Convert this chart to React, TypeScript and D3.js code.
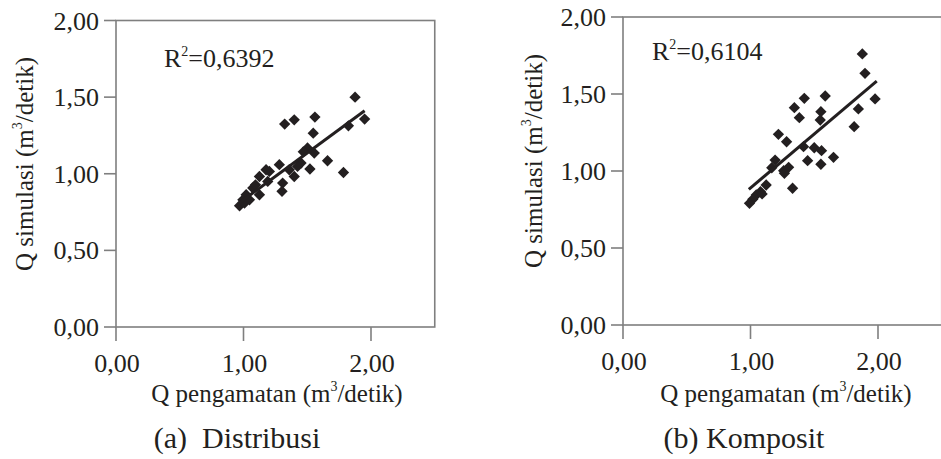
import React from "react";
import * as d3 from "d3";

// ---- Data ----
const distribusiObs = [1.875, 1.95, 1.823, 1.323, 1.398, 1.56, 1.547, 1.502, 1.555, 1.469, 1.659, 1.784, 1.521, 1.451, 1.424, 1.398, 1.359, 1.281, 1.307, 1.302, 1.203, 1.19, 1.125, 1.073, 1.125, 1.021, 0.995, 0.969, 1.008, 1.047, 1.177, 1.094];
const distribusiSim = [1.5, 1.357, 1.313, 1.324, 1.352, 1.37, 1.265, 1.168, 1.135, 1.143, 1.085, 1.008, 1.031, 1.07, 1.048, 0.982, 1.026, 1.059, 0.939, 0.885, 1.015, 0.95, 0.982, 0.907, 0.863, 0.863, 0.83, 0.791, 0.809, 0.83, 1.026, 0.928];

const kompositObs = [1.877, 1.898, 1.977, 1.846, 1.813, 1.586, 1.422, 1.344, 1.383, 1.552, 1.547, 1.219, 1.283, 1.416, 1.5, 1.557, 1.651, 1.448, 1.552, 1.193, 1.167, 1.26, 1.299, 1.33, 1.123, 1.078, 1.045, 1.018, 0.992, 1.091, 1.266];
const kompositSim = [1.76, 1.634, 1.468, 1.403, 1.288, 1.487, 1.472, 1.411, 1.346, 1.385, 1.331, 1.238, 1.19, 1.158, 1.151, 1.132, 1.089, 1.067, 1.044, 1.071, 1.021, 1.002, 1.024, 0.888, 0.909, 0.866, 0.844, 0.816, 0.79, 0.851, 0.985];

const trendSlope = [0.612, 0.701];
const trendIntercept = [0.218, 0.189];
const trendFrom = [0.969, 0.987];
const trendTo = [1.95, 1.99];
const r2Values = ["0,6392", "0,6104"];
const captions = ["(a)\u00a0\u00a0Distribusi", "(b) Komposit"];
const xTicks = [0, 1, 2];
const yTicks = [0, 0.5, 1, 1.5, 2];
const xDomain = [0, 2.5];
const yDomain = [0, 2];

const fmt = (v: number) => d3.format(".2f")(v).replace(".", ",");

const FONT = "'Liberation Serif', 'Times New Roman', serif";
const AXIS = "#7f7f7f";
const INK = "#231f20";

interface PanelProps {
  obs: number[];
  sim: number[];
  idx: number;
  x0: number;
  yBottom: number;
  yTop: number;
  r2x: number;
  r2y: number;
  yLabelX: number;
  yLabelY: number;
  titleX: number;
  captionX: number;
}

function Panel(p: PanelProps) {
  const x = d3.scaleLinear().domain(xDomain).range([p.x0, p.x0 + 2.5 * 127.5]);
  const y = d3.scaleLinear().domain(yDomain).range([p.yBottom, p.yTop]);
  const pts = p.obs.map((o, i) => ({ o, s: p.sim[i] }));
  const diamond = d3.symbol().type(d3.symbolSquare).size(64)()!;
  const line = d3
    .line<number>()
    .x((d) => x(d))
    .y((d) => y(trendSlope[p.idx] * d + trendIntercept[p.idx]));
  const [xa, xb] = x.range();
  const [yb, yt] = y.range();
  return (
    <g>
      {/* frame */}
      <rect x={xa} y={yt} width={xb - xa} height={yb - yt} fill="none" stroke={AXIS} strokeWidth={1.6} />
      {/* y ticks */}
      {yTicks.map((t) => (
        <g key={"y" + t}>
          <line x1={xa - 12} x2={xa} y1={y(t)} y2={y(t)} stroke={AXIS} strokeWidth={1.6} />
          <text x={xa - 17} y={y(t)} dy="0.35em" textAnchor="end" fontSize={26} fontFamily={FONT} fill={INK}>
            {fmt(t)}
          </text>
        </g>
      ))}
      {/* x ticks */}
      {xTicks.map((t) => (
        <g key={"x" + t}>
          <line x1={x(t)} x2={x(t)} y1={yb} y2={yb + 14} stroke={AXIS} strokeWidth={1.6} />
          <text x={x(t) + 1} y={yb + 45} textAnchor="middle" fontSize={26} fontFamily={FONT} fill={INK}>
            {fmt(t)}
          </text>
        </g>
      ))}
      {/* points */}
      {pts.map((d, i) => (
        <path key={i} d={diamond} transform={`translate(${x(d.o)},${y(d.s)}) rotate(45)`} fill={INK} />
      ))}
      {/* trend line */}
      <path d={line([trendFrom[p.idx], trendTo[p.idx]])!} stroke={INK} strokeWidth={3} fill="none" />
      {/* R2 */}
      <text x={p.r2x} y={p.r2y} fontSize={26} fontFamily={FONT} fill={INK}>
        R<tspan fontSize={14} dy={-11}>2</tspan>
        <tspan dy={11}>={r2Values[p.idx]}</tspan>
      </text>
      {/* y axis title */}
      <text
        transform={`translate(${p.yLabelX},${p.yLabelY}) rotate(-90)`}
        textAnchor="middle"
        fontSize={25}
        fontFamily={FONT}
        fill={INK}
      >
        Q simulasi (m<tspan fontSize={14} dy={-11}>3</tspan>
        <tspan dy={11}>/detik)</tspan>
      </text>
      {/* x axis title */}
      <text x={p.titleX} y={402} textAnchor="middle" fontSize={25} fontFamily={FONT} fill={INK}>
        Q pengamatan (m<tspan fontSize={14} dy={-11}>3</tspan>
        <tspan dy={11}>/detik)</tspan>
      </text>
      {/* caption */}
      <text x={p.captionX} y={448} textAnchor="middle" fontSize={30} fontFamily={FONT} fill={INK}>
        {captions[p.idx]}
      </text>
    </g>
  );
}

export default function App() {
  return (
    <svg
      width={941}
      height={459}
      viewBox="0 0 941 459"
      style={{ position: "fixed", left: 0, top: 0, background: "#fff" }}
    >
      <rect width={941} height={459} fill="#fff" />
      <Panel obs={distribusiObs} sim={distribusiSim} idx={0} x0={116} yBottom={327} yTop={20.5} r2x={164} r2y={67} yLabelX={33} yLabelY={164} titleX={277} captionX={237} />
      <Panel obs={kompositObs} sim={kompositSim} idx={1} x0={623} yBottom={325} yTop={17} r2x={652} r2y={60} yLabelX={542} yLabelY={161} titleX={786} captionX={744} />
    </svg>
  );
}
